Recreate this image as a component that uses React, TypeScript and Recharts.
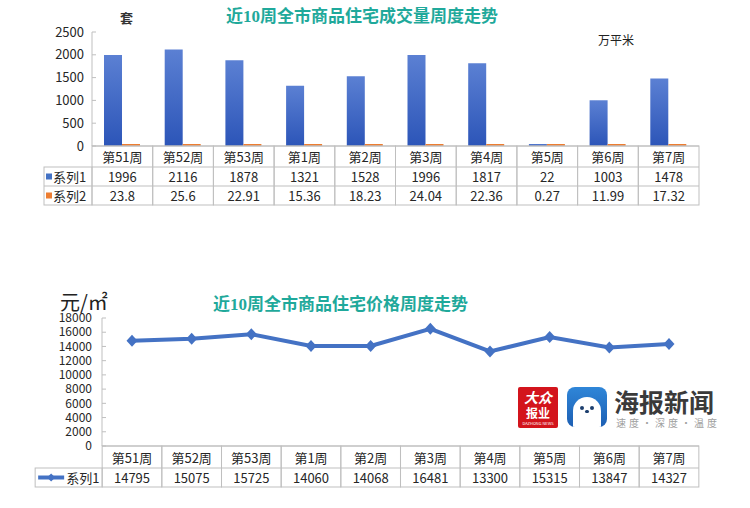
import React from 'react';
import { BarChart, Bar, XAxis, YAxis, LineChart, Line } from 'recharts';

const weeks = ['第51周', '第52周', '第53周', '第1周', '第2周', '第3周', '第4周', '第5周', '第6周', '第7周'];
const soldUnits = [1996, 2116, 1878, 1321, 1528, 1996, 1817, 22, 1003, 1478];
const soldArea = [23.8, 25.6, 22.91, 15.36, 18.23, 24.04, 22.36, 0.27, 11.99, 17.32];
const prices = [14795, 15075, 15725, 14060, 14068, 16481, 13300, 15315, 13847, 14327];
const unitTicks = [0, 500, 1000, 1500, 2000, 2500];
const priceTicks = [0, 2000, 4000, 6000, 8000, 10000, 12000, 14000, 16000, 18000];

const barData = weeks.map((w, i) => ({ week: w, s1: soldUnits[i], s2: soldArea[i] }));
const lineData = weeks.map((w, i) => ({ week: w, s1: prices[i] }));

const FONT = "'Noto Sans CJK SC', 'Noto Sans', sans-serif";
const TITLE_FONT = "'Liberation Serif', 'Noto Sans CJK SC', serif";
const GRID = '#bfbfbf';
const TXT = '#262626';
const BLUE = '#4472c4';
const ORANGE = '#ed7d31';
const TEAL = '#1fa99b';

const COL1 = 60.7;
const COL2 = 59.7;

const TableTick1 = (props: any) => {
  const { x, y, payload } = props;
  const i = payload.index;
  const w = COL1;
  const l = x - w / 2;
  const rows = [21, 19, 19];
  const y1 = y + rows[0];
  const y2 = y1 + rows[1];
  const y3 = y2 + rows[2];
  return (
    <g>
      <rect x={l} y={y} width={w} height={y3 - y} fill="none" stroke={GRID} strokeWidth={1} />
      <line x1={l} x2={l + w} y1={y1} y2={y1} stroke={GRID} />
      <line x1={l} x2={l + w} y1={y2} y2={y2} stroke={GRID} />
      <text x={x} y={y + rows[0] / 2} textAnchor="middle" dominantBaseline="central" fontSize={13} fill={TXT} fontFamily={FONT}>{payload.value}</text>
      <text x={x} y={y1 + rows[1] / 2} textAnchor="middle" dominantBaseline="central" fontSize={13} fill={TXT} fontFamily={FONT}>{String(soldUnits[i])}</text>
      <text x={x} y={y2 + rows[2] / 2} textAnchor="middle" dominantBaseline="central" fontSize={13} fill={TXT} fontFamily={FONT}>{String(soldArea[i])}</text>
      {i === 0 && (
        <g>
          <rect x={l - 48} y={y1} width={48} height={y3 - y1} fill="none" stroke={GRID} />
          <line x1={l - 48} x2={l} y1={y2} y2={y2} stroke={GRID} />
          <rect x={l - 46} y={y1 + rows[1] / 2 - 3} width={6} height={6} fill={BLUE} />
          <rect x={l - 46} y={y2 + rows[2] / 2 - 3} width={6} height={6} fill={ORANGE} />
          <text x={l - 39} y={y1 + rows[1] / 2} dominantBaseline="central" fontSize={13} fill={TXT} fontFamily={FONT}>系列1</text>
          <text x={l - 39} y={y2 + rows[2] / 2} dominantBaseline="central" fontSize={13} fill={TXT} fontFamily={FONT}>系列2</text>
        </g>
      )}
    </g>
  );
};

const TableTick2 = (props: any) => {
  const { x, y, payload } = props;
  const i = payload.index;
  const w = COL2;
  const l = x - w / 2;
  const rows = [22, 19];
  const y1 = y + rows[0];
  const y2 = y1 + rows[1];
  return (
    <g>
      <rect x={l} y={y} width={w} height={y2 - y} fill="none" stroke={GRID} strokeWidth={1} />
      <line x1={l} x2={l + w} y1={y1} y2={y1} stroke={GRID} />
      <text x={x} y={y + rows[0] / 2} textAnchor="middle" dominantBaseline="central" fontSize={13} fill={TXT} fontFamily={FONT}>{payload.value}</text>
      <text x={x} y={y1 + rows[1] / 2} textAnchor="middle" dominantBaseline="central" fontSize={13} fill={TXT} fontFamily={FONT}>{String(prices[i])}</text>
      {i === 0 && (
        <g>
          <rect x={l - 67} y={y1} width={67} height={rows[1]} fill="none" stroke={GRID} />
          <line x1={l - 64} x2={l - 38} y1={y1 + rows[1] / 2} y2={y1 + rows[1] / 2} stroke={BLUE} strokeWidth={4} />
          <path d={`M${l - 51},${y1 + rows[1] / 2 - 4}L${l - 47},${y1 + rows[1] / 2}L${l - 51},${y1 + rows[1] / 2 + 4}L${l - 55},${y1 + rows[1] / 2}Z`} fill={BLUE} />
          <text x={l - 36} y={y1 + rows[1] / 2} dominantBaseline="central" fontSize={13} fill={TXT} fontFamily={FONT}>系列1</text>
        </g>
      )}
    </g>
  );
};

const Diamond = (p: any) => {
  const { cx, cy, index } = p;
  if (cx == null || cy == null) return <g key={`d${index}`} />;
  return (
    <path key={`d${index}`} d={`M${cx},${cy - 6}L${cx + 5.5},${cy}L${cx},${cy + 6}L${cx - 5.5},${cy}Z`} fill={BLUE} />
  );
};

const abs = (left: number, top: number, extra: React.CSSProperties = {}): React.CSSProperties => ({
  position: 'absolute',
  left,
  top,
  ...extra,
});

export default function App() {
  return (
    <div style={{ position: 'absolute', left: 0, top: 0, width: 750, height: 508, background: '#ffffff', overflow: 'hidden', fontFamily: FONT }}>
      {/* Chart 1 */}
      <div style={abs(0, 0)}>
        <BarChart width={750} height={212} data={barData} margin={{ top: 32, right: 51, bottom: 4, left: 0 }} barGap={0} barSize={18}>
          <defs>
            <linearGradient id="barGrad" x1="0" y1="0" x2="0" y2="1">
              <stop offset="0" stopColor="#5b80d3" />
              <stop offset="1" stopColor="#2c55b8" />
            </linearGradient>
          </defs>
          <XAxis dataKey="week" height={62} tickLine={false} tickSize={0} tickMargin={0} axisLine={{ stroke: GRID }} tick={<TableTick1 />} interval={0} />
          <YAxis width={92} domain={[0, 2500]} ticks={unitTicks} tickSize={-4} tickMargin={12} tickLine={{ stroke: GRID }} axisLine={{ stroke: GRID }} tick={{ fontSize: 13, fill: TXT, fontFamily: FONT }} />
          <Bar dataKey="s1" fill="url(#barGrad)" minPointSize={2} isAnimationActive={false} />
          <Bar dataKey="s2" fill={ORANGE} minPointSize={2} isAnimationActive={false} />
        </BarChart>
      </div>
      <div style={abs(226, 6, { fontFamily: TITLE_FONT, fontWeight: 700, fontSize: 17, color: TEAL, whiteSpace: 'nowrap', lineHeight: '22px' })}>近10周全市商品住宅成交量周度走势</div>
      <div style={abs(120, 9, { fontSize: 13, color: '#333', fontWeight: 700, lineHeight: '18px' })}>套</div>
      <div style={abs(598, 31, { fontSize: 12, color: '#222', lineHeight: '18px', whiteSpace: 'nowrap' })}>万平米</div>

      {/* Chart 2 */}
      <div style={abs(0, 280)}>
        <LineChart width={750} height={228} data={lineData} margin={{ top: 38, right: 51, bottom: 12, left: 0 }}>
          <XAxis dataKey="week" height={50} padding={{ left: 30, right: 30 }} tickLine={false} tickSize={0} tickMargin={0} axisLine={{ stroke: GRID }} tick={<TableTick2 />} interval={0} />
          <YAxis width={102} domain={[0, 18000]} ticks={priceTicks} interval={0} tickSize={-4} tickMargin={14} tickLine={{ stroke: GRID }} axisLine={{ stroke: GRID }} tick={{ fontSize: 12, fill: TXT, fontFamily: FONT }} />
          <Line type="linear" dataKey="s1" stroke={BLUE} strokeWidth={4} dot={<Diamond />} activeDot={false} isAnimationActive={false} />
        </LineChart>
      </div>
      <div style={abs(213, 294, { fontFamily: TITLE_FONT, fontWeight: 700, fontSize: 17, color: TEAL, whiteSpace: 'nowrap', lineHeight: '22px' })}>近10周全市商品住宅价格周度走势</div>
      <div style={abs(60, 290, { fontSize: 20, color: '#222', lineHeight: '24px', whiteSpace: 'nowrap' })}>元/㎡</div>

      {/* Watermark logo */}
      <div style={abs(518, 387, { width: 40, height: 41, background: '#d3141c', borderRadius: 2, color: '#fff', overflow: 'hidden' })}>
        <div style={abs(0, 2, { width: 40, textAlign: 'center', fontSize: 14, lineHeight: '16px', fontWeight: 700, fontStyle: 'italic' })}>大众</div>
        <div style={abs(0, 19, { width: 40, textAlign: 'center', fontSize: 12, lineHeight: '13px', fontWeight: 700 })}>报业</div>
        <div style={abs(0, 33, { width: 40, textAlign: 'center', fontSize: 4, lineHeight: '6px' })}>DAZHONG NEWS</div>
      </div>
      <div style={abs(567, 387, { width: 40, height: 40, background: 'linear-gradient(180deg,#2f86d8,#1d5fb3)', borderRadius: 8, overflow: 'hidden' })}>
        <div style={abs(6, 10, { width: 28, height: 34, background: '#fff', borderRadius: '14px 14px 4px 4px' })} />
        <div style={abs(13, 19, { width: 4, height: 4, background: '#1d3f6e', borderRadius: 2 })} />
        <div style={abs(23, 19, { width: 4, height: 4, background: '#1d3f6e', borderRadius: 2 })} />
        <div style={abs(18, 23, { width: 4, height: 3, background: '#1d3f6e', borderRadius: 2 })} />
      </div>
      <div style={abs(614, 387, { fontSize: 25, lineHeight: '28px', color: '#3a3a3a', fontWeight: 700, whiteSpace: 'nowrap', letterSpacing: 0 })}>海报新闻</div>
      <div style={abs(616, 417, { fontSize: 10, lineHeight: '12px', color: '#a0a0a0', whiteSpace: 'nowrap', letterSpacing: 3 })}>速度·深度·温度</div>
    </div>
  );
}
